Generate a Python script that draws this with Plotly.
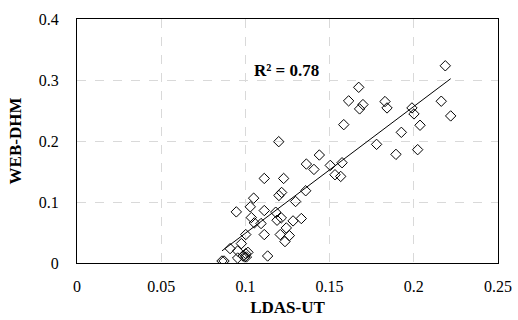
import numpy as np
import plotly.graph_objects as go

ldas_ut = [0.2187, 0.1673, 0.1613, 0.1698, 0.1678, 0.1829, 0.1841, 0.2163, 0.1989, 0.2001,
           0.2219, 0.1584, 0.2037, 0.1926, 0.1779, 0.1894, 0.2023, 0.1198, 0.1439, 0.1362,
           0.1407, 0.1504, 0.1574, 0.1532, 0.1566, 0.1112, 0.1227, 0.1358, 0.1215, 0.1199,
           0.1298, 0.1049, 0.0946, 0.1029, 0.1112, 0.1180, 0.1035, 0.1188, 0.1213, 0.1053,
           0.1093, 0.1283, 0.1332, 0.1243, 0.1002, 0.1112, 0.1207, 0.1261, 0.1235, 0.0909,
           0.0976, 0.0954, 0.0954, 0.0986, 0.1002, 0.1015, 0.0996, 0.1132, 0.0861, 0.0873,
           0.1006]
web_dhm = [0.3233, 0.2880, 0.2658, 0.2597, 0.2526, 0.2647, 0.2542, 0.2652, 0.2542, 0.2444,
           0.2411, 0.2268, 0.2258, 0.2142, 0.1945, 0.1781, 0.1858, 0.1989, 0.1770, 0.1622,
           0.1534, 0.1600, 0.1644, 0.1447, 0.1419, 0.1386, 0.1386, 0.1184, 0.1156, 0.1107,
           0.1008, 0.1063, 0.0838, 0.0921, 0.0860, 0.0833, 0.0745, 0.0701, 0.0740, 0.0658,
           0.0647, 0.0690, 0.0729, 0.0575, 0.0466, 0.0466, 0.0466, 0.0449, 0.0351, 0.0236,
           0.0318, 0.0197, 0.0082, 0.0115, 0.0153, 0.0175, 0.0099, 0.0115, 0.0033, 0.0033,
           0.0099]
# linear trend line as drawn in the reference
trend_slope = 2.078
trend_intercept = -0.159
r2_label = "R² = 0.78"

x = np.array(ldas_ut)
xl = np.array([x.min(), x.max()])
yl = trend_slope * xl + trend_intercept

font_family = "Times New Roman, Liberation Serif, serif"

fig = go.Figure()
fig.add_trace(go.Scatter(
    x=ldas_ut, y=web_dhm, mode="markers",
    marker=dict(symbol="diamond-open", size=8, color="black", line=dict(width=1.0, color="black")),
    showlegend=False,
))
fig.add_trace(go.Scatter(
    x=xl, y=yl, mode="lines", line=dict(color="black", width=1.0), showlegend=False,
))
fig.add_annotation(x=0.1245, y=0.315, text="<b>" + r2_label + "</b>", showarrow=False,
                   font=dict(family=font_family, size=17, color="black"))

axis_common = dict(
    showline=True, linecolor="black", linewidth=1, mirror=True,
    showgrid=True, gridcolor="#d9d9d9", griddash="dash", gridwidth=1,
    zeroline=False, ticks="", automargin=False,
    tickfont=dict(family=font_family, size=16, color="black"),
)
fig.update_xaxes(range=[0, 0.25], dtick=0.05, tick0=0, ticklabelstandoff=9,
                 title=dict(text="<b>LDAS-UT</b>", font=dict(family=font_family, size=17, color="black"), standoff=6),
                 **axis_common)
fig.update_yaxes(range=[0, 0.4], dtick=0.1, tick0=0, ticklabelstandoff=14,
                 title=dict(text="<b>WEB-DHM</b>", font=dict(family=font_family, size=17, color="black"), standoff=12),
                 **axis_common)
fig.update_layout(
    width=518, height=320,
    margin=dict(l=77, r=20, t=19, b=57),
    paper_bgcolor="white", plot_bgcolor="white",
    font=dict(family=font_family, color="black"),
)
fig.write_html("out.html", config={"displayModeBar": False},
               post_script="document.body.style.margin='0';")
